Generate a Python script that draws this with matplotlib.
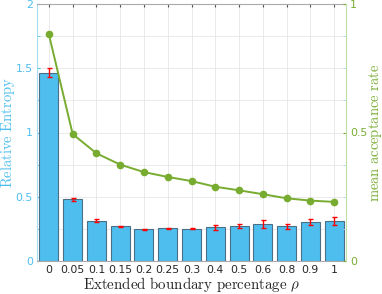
import matplotlib
matplotlib.use("Agg")
import matplotlib.pyplot as plt
import numpy as np
from matplotlib.ticker import MultipleLocator, FuncFormatter

plt.rcParams['mathtext.fontset'] = 'cm'

categories = ['0', '0.05', '0.1', '0.15', '0.2', '0.25', '0.3', '0.4', '0.5', '0.6', '0.8', '0.9', '1']
rel_entropy = [1.465, 0.48, 0.314, 0.27, 0.247, 0.254, 0.251, 0.262, 0.27, 0.288, 0.27, 0.303, 0.314]
rel_err = [0.035, 0.013, 0.01, 0.006, 0.005, 0.005, 0.005, 0.018, 0.015, 0.03, 0.02, 0.025, 0.03]
accept = [0.882, 0.494, 0.419, 0.375, 0.346, 0.327, 0.311, 0.289, 0.275, 0.26, 0.244, 0.235, 0.23]

blue = '#4DBEEE'
green = '#77AC30'
fmt = FuncFormatter(lambda v, p: '%g' % v)

fig = plt.figure(figsize=(3.82, 2.94), dpi=100)
ax = fig.add_axes([37/382, 33/294, 309/382, 257/294])
x = np.arange(1, len(categories) + 1)

ax.set_axisbelow(True)
ax.bar(x, rel_entropy, width=0.8, color=blue, edgecolor='#4a6f86', linewidth=0.8, zorder=2)
ax.errorbar(x, rel_entropy, yerr=rel_err, fmt='none', ecolor='red', elinewidth=1.0,
            capsize=1.8, capthick=1.0, zorder=3)
ax.set_xlim(0.5, len(categories) + 0.5)
ax.set_xticks(x)
ax.set_xticklabels(categories)
ax.yaxis.set_major_locator(MultipleLocator(0.5))
ax.yaxis.set_minor_locator(MultipleLocator(0.25))
ax.yaxis.set_major_formatter(fmt)
ax.set_ylim(0, 2)
ax.grid(True, which='both', color='#e6e6e6', linewidth=0.6)
ax.tick_params(axis='y', which='both', direction='in', colors=blue, labelsize=7.8, length=2.5, pad=3)
ax.tick_params(axis='x', direction='in', colors='#555555', labelcolor='#262626', labelsize=7.8,
               length=2.5, top=True, pad=3)
ax.set_xlabel(r'$\mathrm{Extended\ boundary\ percentage}\ \rho$', color='#262626', fontsize=10.8, labelpad=0)
ax.spines['left'].set_color('#a8dcf3')
ax.spines['bottom'].set_color('#aaaaaa')
ax.spines['top'].set_color('#aaaaaa')
ax.spines['right'].set_visible(False)

ax2 = ax.twinx()
ax2.plot(x, accept, '-o', color=green, linewidth=1.4, markersize=4.5, zorder=4)
ax2.yaxis.set_major_locator(MultipleLocator(0.5))
ax2.yaxis.set_minor_locator(MultipleLocator(0.125))
ax2.yaxis.set_major_formatter(fmt)
ax2.set_ylim(0, 1)
ax2.tick_params(axis='y', which='both', direction='in', colors=green, labelsize=7.8, length=2.5, pad=3)
ax2.tick_params(axis='y', which='minor', colors='#a8dcf3')
ax2.spines['right'].set_color('#c0dfa8')
ax2.spines['left'].set_visible(False)
ax2.spines['top'].set_visible(False)
ax2.spines['bottom'].set_visible(False)

ycen = (33 + 257 / 2) / 294
fig.text(8.5 / 382, ycen, r'$\mathrm{Relative\ Entropy}$', color=blue, fontsize=10.5,
         rotation=90, ha='center', va='center')
fig.text(375 / 382, ycen, r'$\mathrm{mean\ acceptance\ rate}$', color=green, fontsize=10.5,
         rotation=90, ha='center', va='center')

fig.savefig('out.png', dpi=100)
